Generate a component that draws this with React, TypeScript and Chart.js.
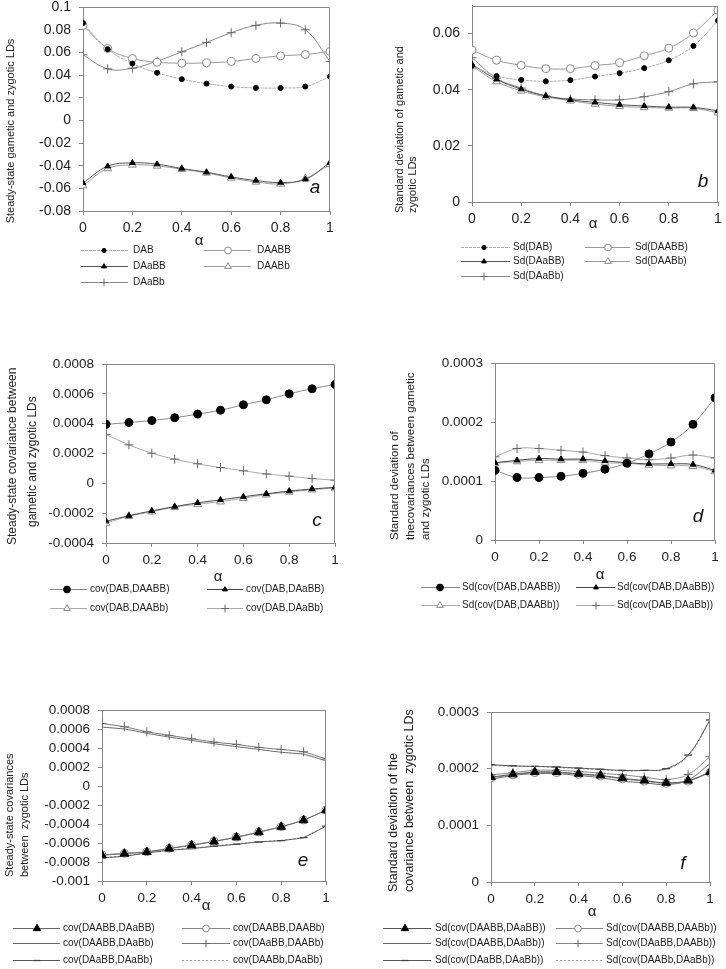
import React, { useEffect, useRef } from 'react';
import { Chart, registerables } from 'chart.js';
import { drawPoint } from 'chart.js/helpers';

Chart.register(...registerables);

const FONT = '"Liberation Sans", Arial, sans-serif';

// ---------- data ----------
const alpha = [0, 0.1, 0.2, 0.3, 0.4, 0.5, 0.6, 0.7, 0.8, 0.9, 1];

// panel a
const aLabels = ['DAB', 'DAABB', 'DAaBB', 'DAABb', 'DAaBb'];
const aDAB = [0.0858, 0.0628, 0.0501, 0.0419, 0.0363, 0.0324, 0.0298, 0.0286, 0.0286, 0.0298, 0.0386];
const aDAABB = [0.0838, 0.0634, 0.0546, 0.0513, 0.0504, 0.0507, 0.0519, 0.0546, 0.0569, 0.0581, 0.0608];
const aDAaBB = [-0.0552, -0.0405, -0.0375, -0.0387, -0.0425, -0.0458, -0.0499, -0.0531, -0.0549, -0.052, -0.0372];
const aDAABb = [-0.0576, -0.0425, -0.0393, -0.0402, -0.0431, -0.0464, -0.0508, -0.0543, -0.0561, -0.0514, -0.039];
const aDAaBb = [0.0578, 0.0454, 0.046, 0.0522, 0.0605, 0.0687, 0.0773, 0.0838, 0.0858, 0.0799, 0.0519];

// panel b
const bLabels = ['Sd(DAB)', 'Sd(DAABB)', 'Sd(DAaBB)', 'Sd(DAABb)', 'Sd(DAaBb)'];
const bDAB = [0.0485, 0.0449, 0.0435, 0.043, 0.0434, 0.0447, 0.0459, 0.0477, 0.0505, 0.0556, 0.0646];
const bDAABB = [0.0541, 0.0505, 0.0487, 0.0475, 0.0475, 0.0486, 0.0496, 0.0521, 0.0548, 0.0602, 0.0683];
const bDAaBB = [0.049, 0.0437, 0.0402, 0.0378, 0.0364, 0.0355, 0.0347, 0.0342, 0.0338, 0.0337, 0.0325];
const bDAABb = [0.0485, 0.0429, 0.0396, 0.0375, 0.0361, 0.0349, 0.0341, 0.0337, 0.0335, 0.0334, 0.0318];
const bDAaBb = [0.0514, 0.0441, 0.0406, 0.0378, 0.0367, 0.0364, 0.0364, 0.0375, 0.0393, 0.0421, 0.0428];

// panel c
const cLabels = ['cov(DAB,DAABB)', 'cov(DAB,DAaBB)', 'cov(DAB,DAABb)', 'cov(DAB,DAaBb)'];
const cAABB = [0.000395, 0.000408, 0.000421, 0.00044, 0.000464, 0.00049, 0.000527, 0.00056, 0.0006, 0.000634, 0.000663];
const cAaBB = [-0.000254, -0.000217, -0.000185, -0.000156, -0.000131, -0.000111, -0.00009, -0.00007, -0.000052, -0.000038, -0.000027];
const cAABb = [-0.000266, -0.000221, -0.00019, -0.00016, -0.00014, -0.000123, -0.0001, -0.000076, -0.000058, -0.000043, -0.000031];
const cAaBb = [0.000328, 0.000258, 0.000202, 0.000162, 0.000131, 0.000106, 0.000084, 0.000063, 0.000048, 0.000032, 0.000021];

// panel d
const dLabels = ['Sd(cov(DAB,DAABB))', 'Sd(cov(DAB,DAaBB))', 'Sd(cov(DAB,DAABb))', 'Sd(cov(DAB,DAaBb))'];
const dAABB = [0.000118, 0.000106, 0.000106, 0.000108, 0.000113, 0.00012, 0.00013, 0.000146, 0.000166, 0.000196, 0.000241];
const dAaBB = [0.000131, 0.000135, 0.000138, 0.000137, 0.000137, 0.000134, 0.000131, 0.000129, 0.000129, 0.000128, 0.000118];
const dAABb = [0.00013, 0.000133, 0.000135, 0.000135, 0.000135, 0.000131, 0.00013, 0.000127, 0.000126, 0.000125, 0.000116];
const dAaBb = [0.000141, 0.000155, 0.000155, 0.000152, 0.000149, 0.000143, 0.000139, 0.000136, 0.000139, 0.000144, 0.000139];

// panel e
const eLabels = ['cov(DAABB,DAaBB)', 'cov(DAABB,DAABb)', 'cov(DAABB,DAaBb)', 'cov(DAaBB,DAABb)', 'cov(DAaBB,DAaBb)', 'cov(DAABb,DAaBb)'];
const e1 = [-0.000729, -0.000712, -0.000695, -0.000659, -0.000624, -0.000585, -0.00054, -0.000487, -0.00043, -0.00036, -0.000255];
const e2 = [-0.000725, -0.000709, -0.000692, -0.000656, -0.000621, -0.000582, -0.000537, -0.000484, -0.000428, -0.000357, -0.000252];
const e3 = [0.00062, 0.0006, 0.000555, 0.000515, 0.00048, 0.000445, 0.000415, 0.000385, 0.000355, 0.000335, 0.000265];
const e4 = [0.000659, 0.000624, 0.000571, 0.000533, 0.000498, 0.000462, 0.000438, 0.000406, 0.000385, 0.00036, 0.000285];
const e5 = [-0.000757, -0.00074, -0.000705, -0.000677, -0.000659, -0.000635, -0.000613, -0.000589, -0.000575, -0.000543, -0.000423];
const e6 = [-0.000752, -0.000736, -0.000702, -0.000674, -0.000655, -0.000631, -0.000609, -0.000586, -0.000572, -0.00054, -0.00042];

// panel f
const fLabels = ['Sd(cov(DAABB,DAaBB))', 'Sd(cov(DAABB,DAABb))', 'Sd(cov(DAABB,DAaBb))', 'Sd(cov(DAaBB,DAABb))', 'Sd(cov(DAaBB,DAaBb))', 'Sd(cov(DAABb,DAaBb))'];
const f1 = [0.000185, 0.00019, 0.000194, 0.000194, 0.000191, 0.000188, 0.000183, 0.000179, 0.000175, 0.000179, 0.000194];
const f2 = [0.000184, 0.000189, 0.000193, 0.000193, 0.00019, 0.000187, 0.000182, 0.000178, 0.000174, 0.000178, 0.000193];
const f3 = [0.000181, 0.000188, 0.000191, 0.000191, 0.000188, 0.000184, 0.000178, 0.000175, 0.000172, 0.00018, 0.000209];
const f4 = [0.000189, 0.000193, 0.000197, 0.000197, 0.000195, 0.000192, 0.000189, 0.000185, 0.000181, 0.00019, 0.000221];
const f5 = [0.000207, 0.000205, 0.000204, 0.000203, 0.000201, 0.000199, 0.000197, 0.000197, 0.0002, 0.000224, 0.000286];
const f6 = [0.000206, 0.000204, 0.000204, 0.000202, 0.0002, 0.000198, 0.000196, 0.000197, 0.000199, 0.000222, 0.000284];

// ---------- styles ----------
type Marker = { style: any; r: number; fill: string; stroke: string; bw: number };
const MK: Record<string, Marker> = {
  dotS: { style: 'circle', r: 2.5, fill: '#000', stroke: '#000', bw: 1 },
  dotB: { style: 'circle', r: 4, fill: '#000', stroke: '#000', bw: 1 },
  circO: { style: 'circle', r: 4, fill: '#fff', stroke: '#888', bw: 1 },
  triS: { style: 'triangle', r: 3.3, fill: '#000', stroke: '#000', bw: 1 },
  triB: { style: 'triangle', r: 5, fill: '#000', stroke: '#000', bw: 1 },
  triO: { style: 'triangle', r: 4.5, fill: '#fff', stroke: '#888', bw: 1 },
  plus: { style: 'cross', r: 4.5, fill: '#666', stroke: '#666', bw: 1 },
  dash: { style: 'line', r: 4, fill: '#444', stroke: '#444', bw: 1.3 },
  none: { style: 'circle', r: 0, fill: '#000', stroke: '#000', bw: 0 },
};

function ds(label: string, values: number[], color: string, mk: Marker, tension: number, dash: number[] = []) {
  return {
    label,
    data: alpha.map((x, i) => ({ x, y: values[i] })),
    borderColor: color,
    borderWidth: 1,
    borderDash: dash,
    tension,
    fill: false,
    pointStyle: mk.style,
    pointRadius: mk.r,
    pointBackgroundColor: mk.fill,
    pointBorderColor: mk.stroke,
    pointBorderWidth: mk.bw,
  };
}

const fmt = (v: any) => String(Number(Number(v).toFixed(7)));

const decorPlugin = {
  id: 'decor',
  afterDraw(chart: any, _args: any, o: any) {
    const { ctx, chartArea: a } = chart;
    ctx.save();
    // box (top & right)
    ctx.strokeStyle = '#888';
    ctx.lineWidth = 1;
    const t = Math.round(a.top) + 0.5;
    const r = Math.round(a.right) - 0.5;
    ctx.beginPath();
    ctx.moveTo(a.left, t);
    ctx.lineTo(r, t);
    ctx.lineTo(r, a.bottom);
    ctx.stroke();
    // y title
    ctx.fillStyle = '#222';
    ctx.font = `${o.titleSize}px ${FONT}`;
    for (const ln of o.title) {
      ctx.save();
      ctx.translate(ln.x, ln.y);
      ctx.rotate(-Math.PI / 2);
      ctx.textAlign = ln.align || 'left';
      ctx.textBaseline = 'middle';
      ctx.fillText(ln.text, 0, 0);
      ctx.restore();
    }
    // alpha
    ctx.font = `15px ${FONT}`;
    ctx.textAlign = 'center';
    ctx.textBaseline = 'middle';
    ctx.fillText('α', o.alpha.x, o.alpha.y);
    // panel letter
    ctx.font = `italic 19px ${FONT}`;
    ctx.fillStyle = '#111';
    ctx.fillText(o.letter.t, o.letter.x, o.letter.y);
    // legend
    const lg = o.legend;
    chart.data.datasets.forEach((d: any, i: number) => {
      const y = lg.rows[Math.floor(i / 2)];
      const c = lg.cols[i % 2];
      ctx.strokeStyle = d.borderColor;
      ctx.lineWidth = d.borderWidth;
      ctx.setLineDash(d.borderDash || []);
      ctx.beginPath();
      ctx.moveTo(c.x1, y + 0.5);
      ctx.lineTo(c.x2, y + 0.5);
      ctx.stroke();
      ctx.setLineDash([]);
      if (d.pointRadius > 0) {
        ctx.fillStyle = d.pointBackgroundColor;
        ctx.strokeStyle = d.pointBorderColor;
        ctx.lineWidth = d.pointBorderWidth;
        drawPoint(ctx, { pointStyle: d.pointStyle, radius: d.pointRadius * 0.85, rotation: 0, borderWidth: d.pointBorderWidth } as any, c.mx, y + 0.5);
      }
      ctx.fillStyle = '#222';
      ctx.font = `${lg.size}px ${FONT}`;
      ctx.textAlign = 'left';
      ctx.textBaseline = 'middle';
      ctx.fillText(d.label, c.tx, y + 0.5);
    });
    ctx.restore();
  },
};

type PanelCfg = {
  X: number; Y: number; W: number; H: number;
  L: number; R: number; T: number; B: number;
  ymin: number; ymax: number; ystep: number; tickSize: number;
  datasets: any[]; decor: any;
};

function buildConfig(p: PanelCfg): any {
  const tickFont = { family: FONT, size: p.tickSize };
  return {
    type: 'line',
    data: { datasets: p.datasets },
    plugins: [decorPlugin],
    options: {
      animation: false,
      responsive: false,
      devicePixelRatio: 1,
      layout: { padding: { left: 0, top: p.T, right: p.W - p.R, bottom: 0 } },
      plugins: { legend: { display: false }, tooltip: { enabled: false }, decor: p.decor },
      scales: {
        x: {
          type: 'linear', min: 0, max: 1,
          ticks: { stepSize: 0.2, callback: fmt, font: tickFont, color: '#222', padding: 5, maxRotation: 0, autoSkip: false },
          grid: { drawOnChartArea: false, drawTicks: true, tickLength: 4, color: '#888' },
          border: { display: true, color: '#888' },
          afterFit: (s: any) => { s.height = p.H - p.B; s.paddingLeft = 0; s.paddingRight = 0; },
        },
        y: {
          type: 'linear', min: p.ymin, max: p.ymax,
          ticks: { stepSize: p.ystep, includeBounds: false, autoSkip: false, callback: fmt, font: tickFont, color: '#222', padding: 8 },
          grid: { drawOnChartArea: false, drawTicks: true, tickLength: 4, color: '#888' },
          border: { display: true, color: '#888' },
          afterFit: (s: any) => { s.width = p.L; s.paddingTop = 0; s.paddingBottom = 0; },
        },
      },
    },
  };
}

const panels: PanelCfg[] = [
  {
    X: 0, Y: 0, W: 363, H: 300, L: 83, R: 330, T: 7, B: 211,
    ymin: -0.08, ymax: 0.1, ystep: 0.02, tickSize: 14,
    datasets: [
      ds(aLabels[0], aDAB, '#aaa', MK.dotS, 0.4, [3, 1]),
      ds(aLabels[1], aDAABB, '#999', MK.circO, 0.4),
      ds(aLabels[2], aDAaBB, '#555', MK.triS, 0.4),
      ds(aLabels[3], aDAABb, '#999', MK.triO, 0.4),
      ds(aLabels[4], aDAaBb, '#888', MK.plus, 0.4),
    ],
    decor: {
      titleSize: 11,
      title: [{ text: 'Steady-state gametic and zygotic LDs', x: 11, y: 131, align: 'center' }],
      alpha: { x: 199, y: 241 },
      letter: { t: 'a', x: 315, y: 188 },
      legend: { size: 10, rows: [250, 266, 282], cols: [{ x1: 81, x2: 128, mx: 104, tx: 133 }, { x1: 204, x2: 251, mx: 228, tx: 257 }] },
    },
  },
  {
    X: 363, Y: 0, W: 363, H: 300, L: 109, R: 355, T: 4, B: 202,
    ymin: 0, ymax: 0.07, ystep: 0.02, tickSize: 14,
    datasets: [
      ds(bLabels[0], bDAB, '#aaa', MK.dotS, 0.4, [3, 1]),
      ds(bLabels[1], bDAABB, '#999', MK.circO, 0.4),
      ds(bLabels[2], bDAaBB, '#555', MK.triS, 0.4),
      ds(bLabels[3], bDAABb, '#999', MK.triO, 0.4),
      ds(bLabels[4], bDAaBb, '#888', MK.plus, 0.4),
    ],
    decor: {
      titleSize: 11,
      title: [
        { text: 'Standard deviation of gametic and', x: 37, y: 213 },
        { text: 'zygotic LDs', x: 50, y: 213 },
      ],
      alpha: { x: 230, y: 224 },
      letter: { t: 'b', x: 340, y: 182 },
      legend: { size: 10, rows: [247, 261, 276], cols: [{ x1: 98, x2: 147, mx: 121, tx: 150 }, { x1: 222, x2: 267, mx: 245, tx: 272 }] },
    },
  },
  {
    X: 0, Y: 300, W: 363, H: 330, L: 106, R: 335, T: 64, B: 243,
    ymin: -0.0004, ymax: 0.0008, ystep: 0.0002, tickSize: 13.5,
    datasets: [
      ds(cLabels[0], cAABB, '#888', MK.dotB, 0.4),
      ds(cLabels[1], cAaBB, '#444', MK.triS, 0.4),
      ds(cLabels[2], cAABb, '#aaa', MK.triO, 0.4),
      ds(cLabels[3], cAaBb, '#aaa', MK.plus, 0.4),
    ],
    decor: {
      titleSize: 12,
      title: [
        { text: 'Steady-state covariance between', x: 13, y: 245 },
        { text: 'gametic and zygotic LDs', x: 33, y: 227 },
      ],
      alpha: { x: 218, y: 277 },
      letter: { t: 'c', x: 317, y: 221 },
      legend: { size: 10, rows: [289, 308], cols: [{ x1: 50, x2: 87, mx: 67, tx: 90 }, { x1: 207, x2: 243, mx: 225, tx: 246 }] },
    },
  },
  {
    X: 363, Y: 300, W: 363, H: 330, L: 132, R: 352, T: 63, B: 240,
    ymin: 0, ymax: 0.0003, ystep: 0.0001, tickSize: 13.5,
    datasets: [
      ds(dLabels[0], dAABB, '#888', MK.dotB, 0.4),
      ds(dLabels[1], dAaBB, '#444', MK.triS, 0.4),
      ds(dLabels[2], dAABb, '#aaa', MK.triO, 0.4),
      ds(dLabels[3], dAaBb, '#aaa', MK.plus, 0.4),
    ],
    decor: {
      titleSize: 11.5,
      title: [
        { text: 'Standard deviation of', x: 32, y: 240 },
        { text: 'thecovariances between gametic', x: 48, y: 240 },
        { text: 'and zygotic LDs', x: 63, y: 240 },
      ],
      alpha: { x: 237, y: 275 },
      letter: { t: 'd', x: 335, y: 217 },
      legend: { size: 10, rows: [287, 305], cols: [{ x1: 58, x2: 97, mx: 77, tx: 99 }, { x1: 213, x2: 252, mx: 233, tx: 254 }] },
    },
  },
  {
    X: 0, Y: 630, W: 363, H: 339, L: 102, R: 326, T: 80, B: 251,
    ymin: -0.001, ymax: 0.0008, ystep: 0.0002, tickSize: 13.5,
    datasets: [
      ds(eLabels[0], e1, '#666', MK.triB, 0.2),
      ds(eLabels[1], e2, '#888', MK.circO, 0.2),
      ds(eLabels[2], e3, '#666', MK.none, 0.1),
      ds(eLabels[3], e4, '#777', MK.plus, 0.1),
      ds(eLabels[4], e5, '#555', MK.dash, 0.1),
      ds(eLabels[5], e6, '#999', MK.none, 0.1, [2, 2]),
    ],
    decor: {
      titleSize: 11,
      title: [
        { text: 'Steady-state covariances', x: 10, y: 247 },
        { text: 'between  zygotic LDs', x: 25, y: 247 },
      ],
      alpha: { x: 206, y: 276 },
      letter: { t: 'e', x: 303, y: 231 },
      legend: { size: 10, rows: [298, 313, 330], cols: [{ x1: 13, x2: 60, mx: 37, tx: 63 }, { x1: 182, x2: 230, mx: 206, tx: 233 }] },
    },
  },
  {
    X: 363, Y: 630, W: 363, H: 339, L: 128, R: 347, T: 82, B: 252,
    ymin: 0, ymax: 0.0003, ystep: 0.0001, tickSize: 13.5,
    datasets: [
      ds(fLabels[0], f1, '#555', MK.triB, 0.4),
      ds(fLabels[1], f2, '#888', MK.circO, 0.4),
      ds(fLabels[2], f3, '#666', MK.none, 0.4),
      ds(fLabels[3], f4, '#888', MK.plus, 0.4),
      ds(fLabels[4], f5, '#555', MK.dash, 0.4),
      ds(fLabels[5], f6, '#999', MK.none, 0.4, [2, 2]),
    ],
    decor: {
      titleSize: 12.5,
      title: [
        { text: 'Standard deviation of the', x: 31, y: 262 },
        { text: 'covariance between  zygotic LDs', x: 47, y: 262 },
      ],
      alpha: { x: 229, y: 282 },
      letter: { t: 'f', x: 320, y: 234 },
      legend: { size: 10, rows: [298, 313, 330], cols: [{ x1: 20, x2: 68, mx: 42, tx: 72 }, { x1: 193, x2: 240, mx: 215, tx: 243 }] },
    },
  },
];

function Panel({ cfg }: { cfg: PanelCfg }) {
  const ref = useRef<HTMLCanvasElement>(null);
  useEffect(() => {
    const chart = new Chart(ref.current as HTMLCanvasElement, buildConfig(cfg));
    return () => chart.destroy();
  }, [cfg]);
  return (
    <canvas
      ref={ref}
      width={cfg.W}
      height={cfg.H}
      style={{ position: 'absolute', left: cfg.X, top: cfg.Y, width: cfg.W, height: cfg.H }}
    />
  );
}

export default function App() {
  return (
    <div style={{ position: 'absolute', left: 0, top: 0, width: 726, height: 969, background: '#fff' }}>
      {panels.map((p, i) => (
        <Panel key={i} cfg={p} />
      ))}
    </div>
  );
}
